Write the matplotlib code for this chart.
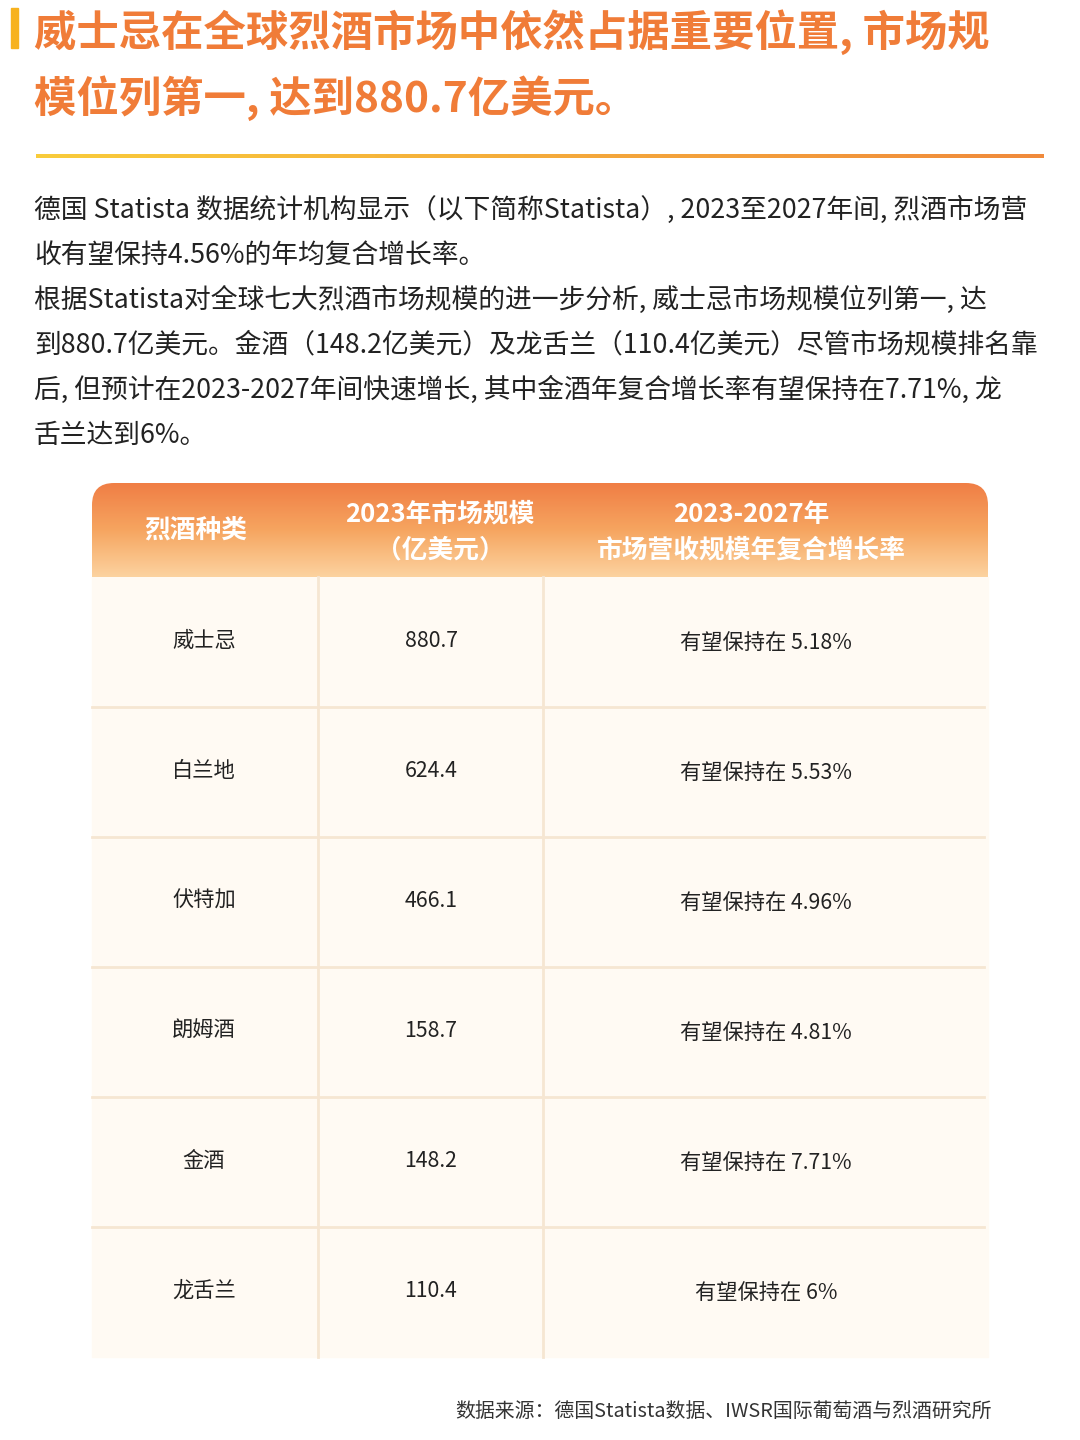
import numpy as np
import matplotlib.pyplot as plt
from matplotlib.patches import FancyBboxPatch, Rectangle
from matplotlib.colors import LinearSegmentedColormap

plt.rcParams["font.family"] = "Noto Sans CJK SC"

# table data
categories = ["威士忌", "白兰地", "伏特加", "朗姆酒", "金酒", "龙舌兰"]
market_size = [880.7, 624.4, 466.1, 158.7, 148.2, 110.4]
growth_text = ["有望保持在 5.18%", "有望保持在 5.53%", "有望保持在 4.96%",
               "有望保持在 4.81%", "有望保持在 7.71%", "有望保持在 6%"]
headers = ["烈酒种类", "2023年市场规模\n（亿美元）", "2023-2027年\n市场营收规模年复合增长率"]

title_lines = ["威士忌在全球烈酒市场中依然占据重要位置, 市场规",
               "模位列第一, 达到880.7亿美元。"]
body_lines = ["德国 Statista 数据统计机构显示（以下简称Statista）, 2023至2027年间, 烈酒市场营",
              "收有望保持4.56%的年均复合增长率。",
              "根据Statista对全球七大烈酒市场规模的进一步分析, 威士忌市场规模位列第一, 达",
              "到880.7亿美元。金酒（148.2亿美元）及龙舌兰（110.4亿美元）尽管市场规模排名靠",
              "后, 但预计在2023-2027年间快速增长, 其中金酒年复合增长率有望保持在7.71%, 龙",
              "舌兰达到6%。"]
source = "数据来源：德国Statista数据、IWSR国际葡萄酒与烈酒研究所"

fig = plt.figure(figsize=(10.8, 14.4), dpi=100)
ax = fig.add_axes([0, 0, 1, 1])
ax.set_xlim(0, 1080)
ax.set_ylim(1440, 0)
ax.axis("off")

# title
ax.add_patch(Rectangle((11, 8), 7, 40, color="#F7B21E"))
for i, t in enumerate(title_lines):
    ax.text(34, 32 + i * 66, t, fontsize=30.5, fontweight="bold", color="#F07C38",
            va="center", ha="left")
line_cmap = LinearSegmentedColormap.from_list("l", ["#F9CC3A", "#F08A3C"])
ax.imshow(np.linspace(0, 1, 256)[None, :], cmap=line_cmap, aspect="auto",
          extent=(36, 1044, 158, 154), zorder=2)

for i, t in enumerate(body_lines):
    ax.text(34, 210 + i * 45, t, fontsize=19.3, color="#222222", va="center", ha="left")

# table
x0, x1 = 92, 988
h_top, h_bot = 483, 577
row_h = 130
col_edges = [x0, 318, 543, x1]
col_centers = [204, 431, 766]

ax.add_patch(Rectangle((x0, h_bot), x1 - x0, row_h * len(categories),
                       color="#FFFAF3", zorder=1))
hdr_cmap = LinearSegmentedColormap.from_list("h", ["#F07E45", "#F6A560", "#FCD3A0"])
im = ax.imshow(np.linspace(0, 1, 256)[:, None], cmap=hdr_cmap, aspect="auto",
               extent=(x0, x1, h_bot, h_top), zorder=2)
clip = FancyBboxPatch((x0, h_top), x1 - x0, (h_bot - h_top) + 30,
                      boxstyle="round,pad=0,rounding_size=22",
                      transform=ax.transData, facecolor="none", edgecolor="none")
ax.add_patch(clip)
im.set_clip_path(clip)

ax.text(196, 530, headers[0], fontsize=18.5, fontweight="bold",
        color="white", ha="center", va="center", zorder=3)
ax.text(440, 532, headers[1], fontsize=18.5, fontweight="bold",
        color="white", ha="center", va="center", linespacing=1.4, zorder=3)
ax.text(751, 532, headers[2], fontsize=18.5, fontweight="bold",
        color="white", ha="center", va="center", linespacing=1.4, zorder=3)

y_end = h_bot + row_h * len(categories)
for xe in col_edges[1:3]:
    ax.plot([xe, xe], [h_bot, y_end], color="#F6E6D2", lw=2, zorder=3)
for i in range(1, len(categories)):
    y = h_bot + i * row_h
    ax.plot([x0, 984], [y, y], color="#F6E6D2", lw=2, zorder=3)

for i, (c, v, g) in enumerate(zip(categories, market_size, growth_text)):
    y = h_bot + i * row_h + 64
    ax.text(col_centers[0], y, c, fontsize=15.3, color="#222222", ha="center", va="center", zorder=4)
    ax.text(col_centers[1], y, f"{v:.1f}", fontsize=15.3, color="#222222", ha="center", va="center", zorder=4)
    ax.text(col_centers[2], y + 2, g, fontsize=15.3, color="#222222", ha="center", va="center", zorder=4)

ax.text(992, 1411, source, fontsize=14.3, color="#333333", ha="right", va="center")

fig.savefig("out.png", dpi=100, facecolor="white")
